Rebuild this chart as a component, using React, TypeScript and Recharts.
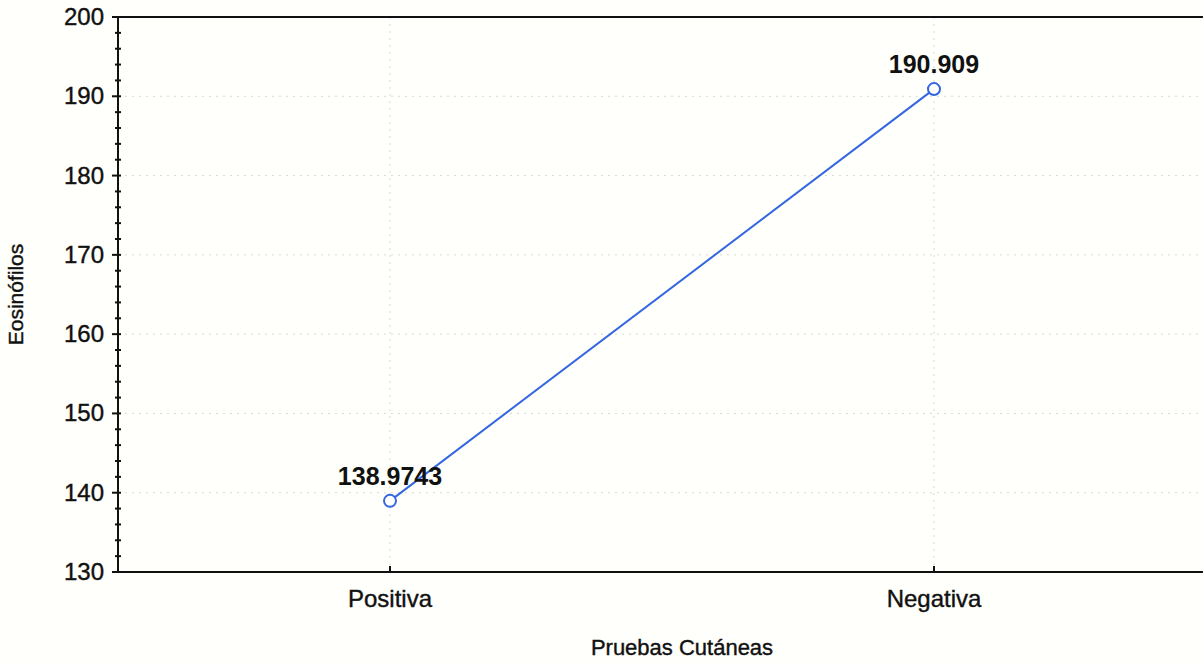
import { CartesianGrid, LabelList, Line, LineChart, ReferenceLine, XAxis, YAxis } from "recharts";

const categories = ["Positiva", "Negativa"];
const eosinofilos = [138.9743, 190.909];
const valueLabels = ["138.9743", "190.909"];
const yTicks = [130, 140, 150, 160, 170, 180, 190, 200];
const yMinorTicks = [
  130, 132, 134, 136, 138, 140, 142, 144, 146, 148, 150, 152, 154, 156, 158, 160, 162, 164, 166, 168, 170,
  172, 174, 176, 178, 180, 182, 184, 186, 188, 190, 192, 194, 196, 198, 200,
];

const data = categories.map((name, i) => ({
  name,
  value: eosinofilos[i],
  label: valueLabels[i],
}));

const FONT = "'Liberation Sans', Arial, sans-serif";
const INK = "#111";

const CategoryTick = (props: any) => {
  const { x, y, payload } = props;
  return (
    <g>
      <line x1={x} x2={x} y1={y - 6} y2={y} stroke={INK} strokeWidth={2} />
      <text
        x={x}
        y={y + 35}
        textAnchor="middle"
        fontSize={24}
        fontFamily={FONT}
        fill={INK}
        stroke={INK}
        strokeWidth={0.4}
      >
        {payload.value}
      </text>
    </g>
  );
};

const ValueTick = (props: any) => {
  const { x, y, payload } = props;
  const major = yTicks.includes(payload.value);
  return (
    <g>
      <line x1={x - (major ? 6 : 3)} x2={x + 3} y1={y} y2={y} stroke={INK} strokeWidth={2} />
      {major && (
        <text
          x={x - 14}
          y={y + 8}
          textAnchor="end"
          fontSize={24}
          fontFamily={FONT}
          fill={INK}
          stroke={INK}
          strokeWidth={0.4}
        >
          {payload.value}
        </text>
      )}
    </g>
  );
};

const App = () => {
  return (
    <div
      style={{
        position: "absolute",
        left: 0,
        top: 0,
        width: 1203,
        height: 663,
        overflow: "hidden",
        background: "#fffffb",
      }}
    >
      <LineChart
        width={1210}
        height={663}
        data={data}
        margin={{ top: 17, right: 4, bottom: 0, left: 0 }}
        style={{ fontFamily: FONT }}
      >
        <CartesianGrid stroke="#d8d8d8" strokeDasharray="2 5" horizontalValues={yTicks} />
        <XAxis
          dataKey="name"
          height={91}
          padding={{ left: 272, right: 272 }}
          axisLine={{ stroke: INK, strokeWidth: 2 }}
          tickLine={false}
          tickSize={0}
          tickMargin={0}
          tick={<CategoryTick />}
          label={{
            value: "Pruebas Cutáneas",
            position: "insideBottom",
            offset: 8,
            dx: 20,
            fontSize: 22,
            fill: INK,
            stroke: INK,
            strokeWidth: 0.4,
            fontFamily: FONT,
          }}
        />
        <YAxis
          domain={[130, 200]}
          ticks={yMinorTicks}
          interval={0}
          width={118}
          axisLine={{ stroke: INK, strokeWidth: 2 }}
          tickLine={false}
          tickSize={0}
          tickMargin={0}
          tick={<ValueTick />}
          label={{
            value: "Eosinófilos",
            angle: -90,
            position: "insideLeft",
            offset: 16,
            fontSize: 21,
            fill: INK,
            stroke: INK,
            strokeWidth: 0.4,
            fontFamily: FONT,
            style: { textAnchor: "middle" },
          }}
        />
        <ReferenceLine y={200} stroke={INK} strokeWidth={2} />
        <Line
          type="linear"
          dataKey="value"
          stroke="#3366e0"
          strokeWidth={2}
          dot={{ r: 6, stroke: "#3366e0", strokeWidth: 2, fill: "#ffffff" }}
          isAnimationActive={false}
        >
          <LabelList
            dataKey="label"
            position="top"
            offset={16}
            fontSize={25}
            fontWeight="bold"
            fill={INK}
            fontFamily={FONT}
          />
        </Line>
      </LineChart>
    </div>
  );
};

export default App;
